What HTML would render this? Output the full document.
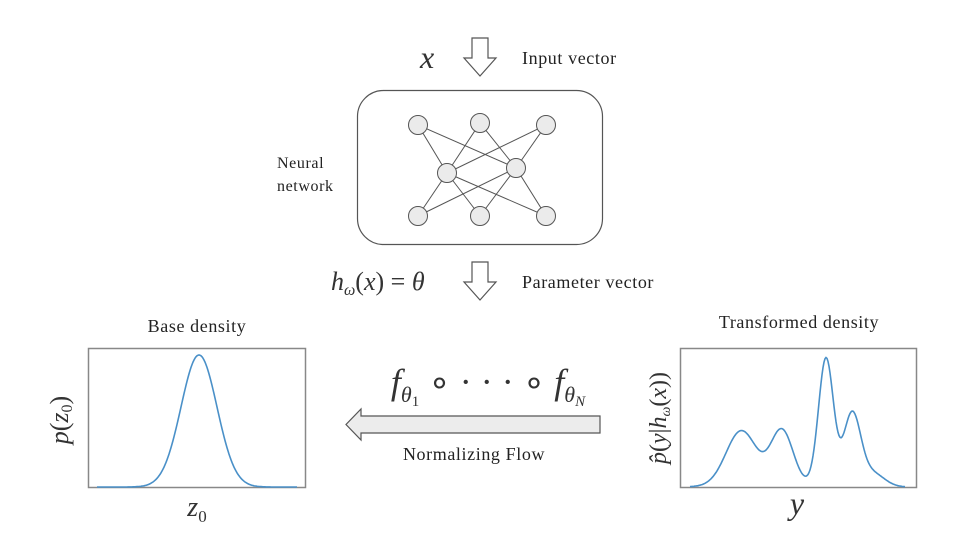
<!DOCTYPE html>
<html><head><meta charset="utf-8"><style>
body{margin:0;background:#fff;width:960px;height:540px;overflow:hidden}
svg{display:block}
.t{font-family:"Liberation Serif",serif;font-size:18px;letter-spacing:0.6px;fill:#222}
.m{font-family:"Liberation Serif",serif;font-style:italic;fill:#333}
</style></head><body>
<svg width="960" height="540" viewBox="0 0 960 540">
<path d="M472,38H488V58H496L480,76L464,58H472Z" fill="#fff" stroke="#555" stroke-width="1.2"/>
<text class="m" x="420" y="68" font-size="32">x</text>
<text class="t" x="522" y="64">Input vector</text>
<rect x="357.5" y="90.5" width="245" height="154" rx="26" fill="#fff" stroke="#555" stroke-width="1.2"/>
<g stroke="#555" stroke-width="1">
<line x1="418" y1="125" x2="447" y2="173"/><line x1="418" y1="125" x2="516" y2="168"/>
<line x1="480" y1="123" x2="447" y2="173"/><line x1="480" y1="123" x2="516" y2="168"/>
<line x1="546" y1="125" x2="447" y2="173"/><line x1="546" y1="125" x2="516" y2="168"/>
<line x1="418" y1="216" x2="447" y2="173"/><line x1="418" y1="216" x2="516" y2="168"/>
<line x1="480" y1="216" x2="447" y2="173"/><line x1="480" y1="216" x2="516" y2="168"/>
<line x1="546" y1="216" x2="447" y2="173"/><line x1="546" y1="216" x2="516" y2="168"/>
</g>
<g fill="#ebebeb" stroke="#555" stroke-width="1">
<circle cx="418" cy="125" r="9.5"/><circle cx="480" cy="123" r="9.5"/><circle cx="546" cy="125" r="9.5"/>
<circle cx="447" cy="173" r="9.5"/><circle cx="516" cy="168" r="9.5"/>
<circle cx="418" cy="216" r="9.5"/><circle cx="480" cy="216" r="9.5"/><circle cx="546" cy="216" r="9.5"/>
</g>
<text class="t" x="277" y="168" style="font-size:16px">Neural</text>
<text class="t" x="277" y="191" style="font-size:16px">network</text>
<path d="M472,262H488V282H496L480,300L464,282H472Z" fill="#fff" stroke="#555" stroke-width="1.2"/>
<text class="m" x="331" y="290" font-size="26">h<tspan font-size="16" dy="5">ω</tspan><tspan dy="-5" font-style="normal">(</tspan>x<tspan font-style="normal">) = </tspan>θ</text>
<text class="t" x="522" y="288">Parameter vector</text>
<text class="t" x="197" y="332" text-anchor="middle">Base density</text>
<rect x="88.5" y="348.5" width="217" height="139" fill="#fff" stroke="#888" stroke-width="1.5"/>
<path id="g1" fill="none" stroke="#4a90c8" stroke-width="1.6"/>
<text class="m" x="68" y="420" font-size="26" transform="rotate(-90 68 420)" text-anchor="middle">p<tspan font-style="normal">(</tspan>z<tspan font-size="16" dy="4" font-style="normal">0</tspan><tspan dy="-4" font-style="normal">)</tspan></text>
<text class="m" x="197" y="516" font-size="28" text-anchor="middle">z<tspan font-size="17" dy="6" font-style="normal">0</tspan></text>
<text class="m" x="488" y="394" font-size="36" text-anchor="middle">f<tspan font-size="22" dy="8">θ</tspan><tspan font-size="15" dy="4" font-style="normal">1</tspan><tspan dy="-12" font-style="normal"> ∘ · · · ∘ </tspan>f<tspan font-size="22" dy="8">θ</tspan><tspan font-size="15" dy="4">N</tspan></text>
<path d="M600,416V433H361V440L346,424.5L361,409V416Z" fill="#ececec" stroke="#555" stroke-width="1.2"/>
<text class="t" x="474" y="460" text-anchor="middle">Normalizing Flow</text>
<text class="t" x="799" y="328" text-anchor="middle">Transformed density</text>
<rect x="680.5" y="348.5" width="236" height="139" fill="#fff" stroke="#888" stroke-width="1.5"/>
<path id="g2" fill="none" stroke="#4a90c8" stroke-width="1.6"/>
<text class="m" x="666" y="418" font-size="24" transform="rotate(-90 666 418)" text-anchor="middle">p̂<tspan font-style="normal">(</tspan>y<tspan font-style="normal">|</tspan>h<tspan font-size="14" dy="4">ω</tspan><tspan dy="-4" font-style="normal">(</tspan>x<tspan font-style="normal">))</tspan></text>
<text class="m" x="797" y="514" font-size="32" text-anchor="middle">y</text>
</svg>
<script>
function mk(id,x0,x1,base,comps){let d="";for(let x=x0;x<=x1;x+=1){let y=0;for(const c of comps)y+=c[1]*Math.exp(-((x-c[0])**2)/(2*c[2]*c[2]));d+=(x==x0?"M":"L")+x+","+(base-y).toFixed(1);}document.getElementById(id).setAttribute("d",d);}
mk("g1",97,297,487,[[199,132,18]]);
mk("g2",690,905,487,[[741,52,15],[782,52,11],[765,6,30],[826,128,7.5],[852,72,8.5],[872,14,12]]);
</script>
</body></html>
